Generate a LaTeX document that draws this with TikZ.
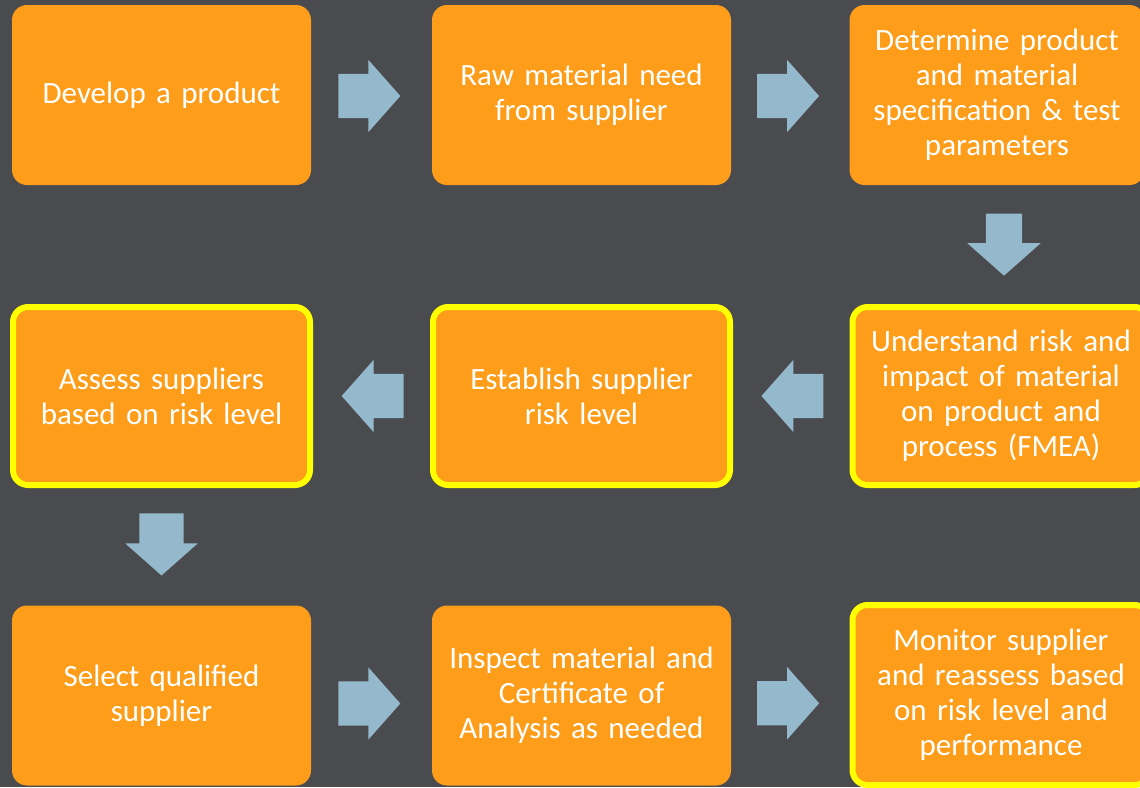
\documentclass[tikz,border=0pt]{standalone}
\usepackage{fontspec}
\setmainfont{Carlito}[WordSpace=0.75]
\usetikzlibrary{shapes.arrows,calc}
\definecolor{bg}{HTML}{4A4B4F}
\definecolor{boxor}{HTML}{FE9D1A}
\definecolor{arr}{HTML}{95B9CC}
\definecolor{hl}{HTML}{FFFF00}
\tikzset{
  stepbox/.style={fill=boxor, rounded corners=15pt, minimum width=299pt, minimum height=180pt,
    text=white, align=center, font=\fontsize{31}{35}\selectfont, inner sep=0pt, text width=295pt},
  hlbox/.style={stepbox, draw=hl, line width=6pt, minimum width=297pt, minimum height=178pt},
  blockarrow/.style={single arrow, fill=arr, draw=none, minimum height=62pt,
    single arrow head extend=14pt, single arrow tip angle=97, inner xsep=0pt, inner ysep=22pt,
    text width=0pt, text height=0pt, text depth=0pt},
  downarrow/.style={blockarrow, shape border rotate=270, inner xsep=22pt, inner ysep=0pt}
}
\begin{document}
\begin{tikzpicture}[x=1pt,y=-1pt]
\fill[bg] (0,0) rectangle (1140,787);
\useasboundingbox (0,0) rectangle (1140,787);
\clip (0,0) rectangle (1140,787);
\node[stepbox] (b1) at (161.5,95) {Develop a product};
\node[stepbox] (b2) at (581.5,95) {Raw material need\\from supplier};
\node[stepbox, minimum width=290pt] (b3) at (997,95) {Determine product\\and material\\specification \& test\\parameters};
\node[hlbox] (b4) at (161.5,396) {Assess suppliers\\based on risk level};
\node[hlbox] (b5) at (581.5,396) {Establish supplier\\risk level};
\node[hlbox] (b6) at (1001,396) {Understand risk and\\impact of material\\on product and\\process (FMEA)};
\node[stepbox] (b7) at (161.5,695.5) {Select qualified\\supplier};
\node[stepbox] (b8) at (581.5,695.5) {Inspect material and\\Certificate of\\Analysis as needed};
\node[hlbox, minimum height=180pt] (b9) at (1001,695) {Monitor supplier\\and reassess based\\on risk level and\\performance};
% arrows
\node[blockarrow] (a12) at ($(b1.east)!0.5!(b2.west)+(-12,1)$) {};
\node[blockarrow] (a23) at ($(b2.east)!0.5!(b3.west)+(-12,1)$) {};
\node[downarrow, inner xsep=18pt, single arrow head extend=18.5pt] (a36) at ($(b3.south)!0.5!(b6.north)+(5,-8)$) {};
\node[blockarrow, shape border rotate=180] (a65) at ($(b6.west)!0.5!(b5.east)+(11,0)$) {};
\node[blockarrow, shape border rotate=180] (a54) at ($(b5.west)!0.5!(b4.east)+(11,0)$) {};
\node[downarrow] (a47) at ($(b4.south)!0.5!(b7.north)+(0,-12)$) {};
\node[blockarrow] (a78) at ($(b7.east)!0.5!(b8.west)+(-12,8)$) {};
\node[blockarrow] (a89) at ($(b8.east)!0.5!(b9.west)+(-12,8)$) {};
\end{tikzpicture}
\end{document}
